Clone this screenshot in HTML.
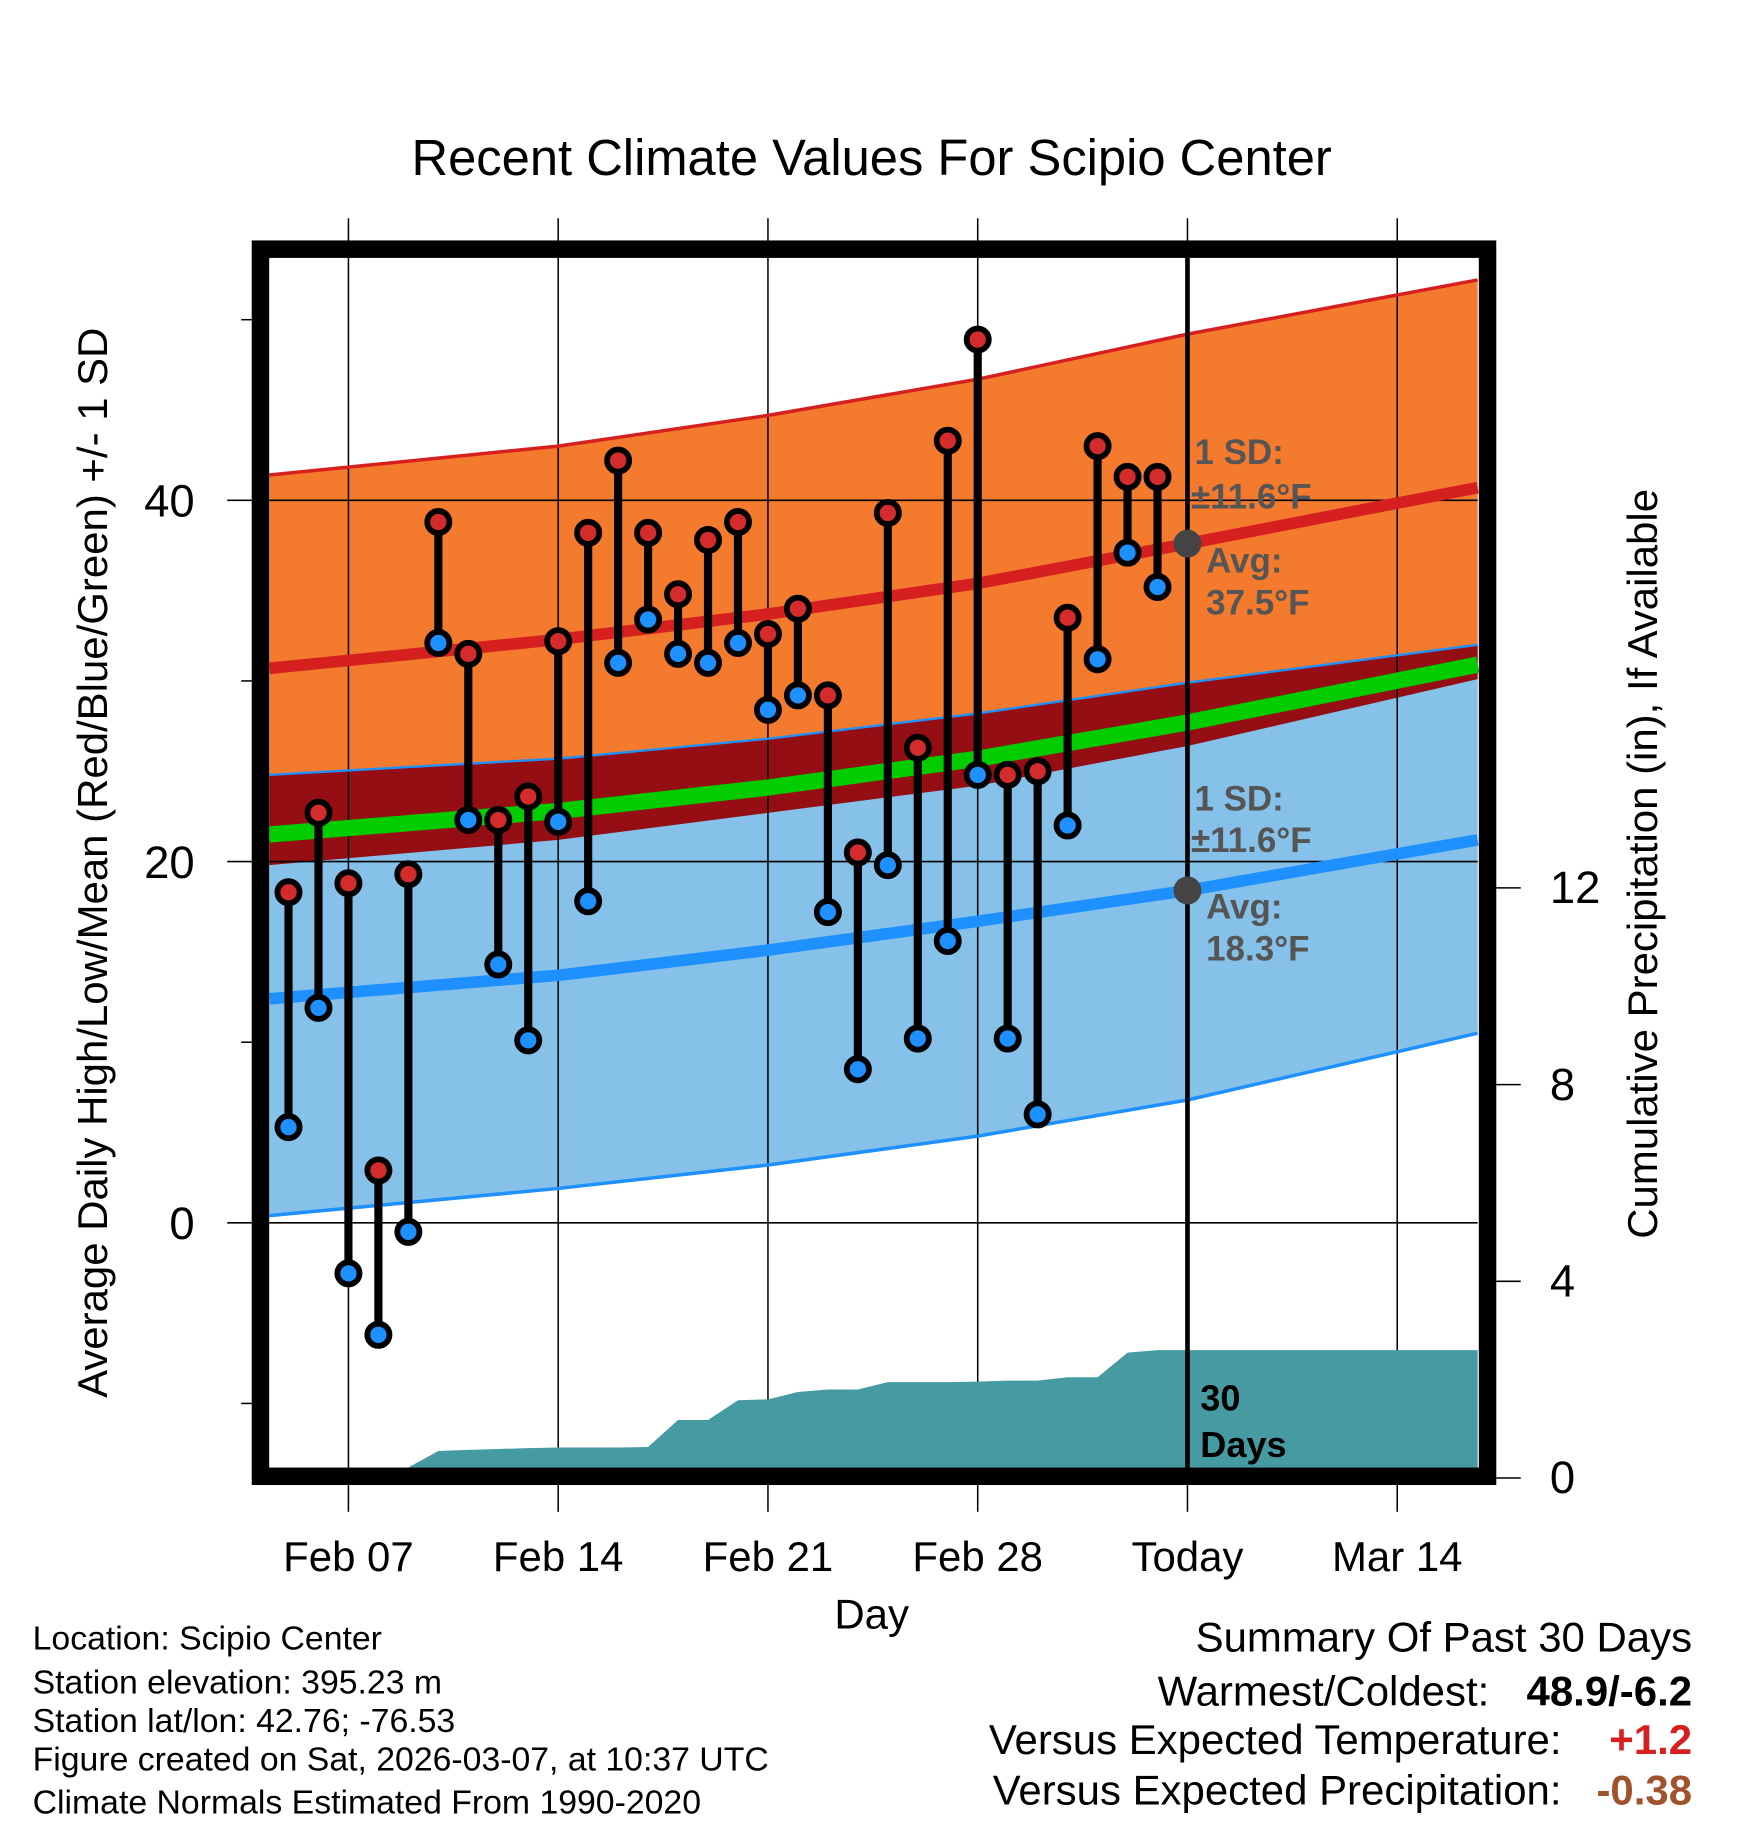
<!DOCTYPE html>
<html><head><meta charset="utf-8"><style>
html,body{margin:0;padding:0;background:#fff}
svg{display:block}
text{font-family:"Liberation Sans",Arial,sans-serif}
</style></head><body>
<svg id="chart" width="1748" height="1828" viewBox="0 0 1500 1568" xmlns="http://www.w3.org/2000/svg">
<g id="bands"></g>
<g id="grid"></g>
<g id="precip"></g>
<g id="lines"></g>
<g id="obs"></g>
<g id="ann">
<g fill="#555" font-weight="bold" font-size="30">
<text x="1025" y="398">1 SD:</text>
<text x="1022" y="436">±11.6°F</text>
<text x="1035" y="491">Avg:</text>
<text x="1035" y="527">37.5°F</text>
<text x="1025" y="695">1 SD:</text>
<text x="1022" y="731">±11.6°F</text>
<text x="1035" y="788">Avg:</text>
<text x="1035" y="824">18.3°F</text>
</g>
<text x="1030" y="1210" font-size="31" font-weight="bold">30</text>
<text x="1030" y="1250" font-size="31" font-weight="bold">Days</text>
</g>
<rect x="223.5" y="213.5" width="1053" height="1053" fill="none" stroke="#000" stroke-width="15"/>
<g id="axes"></g>
<text x="748" y="150" text-anchor="middle" font-size="43.5">Recent Climate Values For Scipio Center</text>
<text transform="translate(92,740) rotate(-90)" text-anchor="middle" font-size="36">Average Daily High/Low/Mean (Red/Blue/Green) +/- 1 SD</text>
<text transform="translate(1422,741) rotate(-90)" text-anchor="middle" font-size="36">Cumulative Precipitation (in), If Available</text>
<text x="748" y="1397" text-anchor="middle" font-size="36">Day</text>
<g font-size="29">
<text x="28" y="1415">Location: Scipio Center</text>
<text x="28" y="1453">Station elevation: 395.23 m</text>
<text x="28" y="1486">Station lat/lon: 42.76; -76.53</text>
<text x="28" y="1519">Figure created on Sat, 2026-03-07, at 10:37 UTC</text>
<text x="28" y="1556">Climate Normals Estimated From 1990-2020</text>
</g>
<g font-size="36">
<text x="1452" y="1417" text-anchor="end">Summary Of Past 30 Days</text>
<text x="1278" y="1463" text-anchor="end">Warmest/Coldest:</text>
<text x="1452" y="1463" text-anchor="end" font-weight="bold">48.9/-6.2</text>
<text x="1340" y="1505" text-anchor="end">Versus Expected Temperature:</text>
<text x="1452" y="1505" text-anchor="end" font-weight="bold" fill="#d62020">+1.2</text>
<text x="1340" y="1548" text-anchor="end">Versus Expected Precipitation:</text>
<text x="1452" y="1548" text-anchor="end" font-weight="bold" fill="#a0522d">-0.38</text>
</g>
</svg>
<script>
// observation days (day-of-February; March days continue as 29..)
const days = [5,6,7,8,9,10,11,12,13,14,15,16,17,18,19,20,21,22,23,24,25,26,27,28,29,30,31,32,33,34];
const highs = [18.3,22.7,18.8,2.9,19.3,38.8,31.5,22.3,23.6,32.2,38.2,42.2,38.2,34.8,37.8,38.8,32.6,34.0,29.2,20.5,39.3,26.3,43.3,48.9,24.8,25.0,33.5,43.0,41.3,41.3];
const lows = [5.3,11.9,-2.8,-6.2,-0.5,32.1,22.3,14.3,10.1,22.2,17.8,31.0,33.4,31.5,31.0,32.1,28.4,29.2,17.2,8.5,19.8,10.2,15.6,24.8,10.2,6.0,22.0,31.2,37.1,35.2];
const precip = [0,0,0,0,0,0.55,0.57,0.59,0.61,0.62,0.62,0.62,0.63,1.18,1.18,1.58,1.6,1.75,1.8,1.8,1.95,1.95,1.95,1.96,1.98,1.98,2.05,2.05,2.55,2.6];
// normals
const normDays = [4.36,14,21,28,35,44.7];
const highMean = [30.7,32.3,33.7,35.4,37.6,40.7];
const highUpper = [41.4,43.0,44.7,46.7,49.2,52.2];
const highLower = [19.8,21.2,22.7,24.2,26.4,30.1];
const lowMean = [12.4,13.7,15.1,16.7,18.4,21.2];
const lowUpper = [24.8,25.7,26.8,28.2,29.9,32.0];
const lowLower = [0.4,1.9,3.2,4.8,6.8,10.5];
const dailyMean = [21.5,22.8,24.1,25.7,27.7,30.9];
const xTickDays = [7,14,21,28,35,42];
const xTickLabels = ["Feb 07","Feb 14","Feb 21","Feb 28","Today","Mar 14"];
const yTicks = [0,20,40];
const yMinor = [-10,10,30,50];
const y2Ticks = [0,4,8,12];
const todayDay = 35;

const NS='http://www.w3.org/2000/svg';
const X0=231,X1=1268,Y0=221,Y1=1259;
const x=d=>299+(d-7)*180/7;
const y=t=>1049-15.5*t;
const yp=p=>1268-42.2*p;
function mk(tag,attrs,parent){const e=document.createElementNS(NS,tag);for(const k in attrs)e.setAttribute(k,attrs[k]);parent.appendChild(e);return e;}
const g=id=>document.getElementById(id);
const pts=(arr)=>normDays.map((d,i)=>Math.min(X1,x(d)).toFixed(1)+','+y(arr[i]).toFixed(1));
function band(up,lo,fill,name){
  const p=pts(up).concat(pts(lo).reverse());
  const e=mk('polygon',{points:p.join(' '),fill:fill},g('bands'));
  
  
}
band(highUpper,highLower,'#f47a2e','high-sd-band');
band(lowUpper,lowLower,'#85c1e8','low-sd-band');
band(lowUpper,highLower,'#940e14','overlap-band');
// grid
xTickDays.forEach(d=>{
  const l=mk('line',{x1:x(d),x2:x(d),y1:187,y2:Y1,stroke:'#000','stroke-width':1.3},g('grid'));
  
  
});
yTicks.forEach(t=>{
  const l=mk('line',{x1:X0,x2:X1,y1:y(t),y2:y(t),stroke:'#000','stroke-width':1.3},g('grid'));
  
  
});
// precip
{
  let p=[x(days[0])+','+Y1];
  days.forEach((d,i)=>p.push(x(d).toFixed(1)+','+Math.min(Y1,yp(precip[i])).toFixed(1)));
  p.push(X1+','+yp(precip[precip.length-1]).toFixed(1));
  p.push(X1+','+Y1);
  const e=mk('polygon',{points:p.join(' '),fill:'#469aa2'},g('precip'));
  
  
}
// lines
function line(arr,color,w,name){
  const e=mk('polyline',{points:pts(arr).join(' '),fill:'none',stroke:color,'stroke-width':w},g('lines'));
  
  
}
line(highUpper,'#d62020',3,'high-upper-line');
line(lowUpper,'#1e90ff',2,'low-upper-line');
line(lowLower,'#1e90ff',3,'low-lower-line');
line(dailyMean,'#00cc00',14,'daily-mean-line');
line(highMean,'#d62020',10,'high-mean-line');
line(lowMean,'#1e90ff',10,'low-mean-line');
{
  const t=mk('line',{x1:x(todayDay),x2:x(todayDay),y1:Y0,y2:Y1,stroke:'#000','stroke-width':4},g('lines'));
  
  
  const interp=(arr,d)=>{for(let i=0;i<normDays.length-1;i++){if(d>=normDays[i]&&d<=normDays[i+1]){const f=(d-normDays[i])/(normDays[i+1]-normDays[i]);return arr[i]+f*(arr[i+1]-arr[i]);}}return arr[arr.length-1];};
  [[highMean,'high-avg-dot'],[lowMean,'low-avg-dot']].forEach(([a,n])=>{
    const c=mk('circle',{cx:x(todayDay),cy:y(interp(a,todayDay)),r:12,fill:'#444'},g('lines'));
    
    
  });
}
// observations
days.forEach((d,i)=>{
  const l=mk('line',{x1:x(d),x2:x(d),y1:y(highs[i]),y2:y(lows[i]),stroke:'#000','stroke-width':7},g('obs'));
  
  
});
days.forEach((d,i)=>{
  const h=mk('circle',{cx:x(d),cy:y(highs[i]),r:9.5,fill:'#d42c2c',stroke:'#000','stroke-width':5},g('obs'));
  
  
  const lo=mk('circle',{cx:x(d),cy:y(lows[i]),r:9.5,fill:'#1e90ff',stroke:'#000','stroke-width':5},g('obs'));
  
  
});
// axes
xTickDays.forEach((d,i)=>{
  const l=mk('line',{x1:x(d),x2:x(d),y1:1274,y2:1297,stroke:'#000','stroke-width':1.3},g('axes'));
  
  
  const t=mk('text',{x:x(d),y:1348,'text-anchor':'middle','font-size':36},g('axes'));
  t.textContent=xTickLabels[i];
  
  
});
yTicks.forEach(v=>{
  const l=mk('line',{x1:195,x2:216,y1:y(v),y2:y(v),stroke:'#000','stroke-width':1.3},g('axes'));
  
  
  const t=mk('text',{x:167,y:y(v)+14,'text-anchor':'end','font-size':39},g('axes'));
  t.textContent=v;
  
  
});
yMinor.forEach(v=>{
  const l=mk('line',{x1:207,x2:216,y1:y(v),y2:y(v),stroke:'#000','stroke-width':1.3},g('axes'));
  
  
});
y2Ticks.forEach(v=>{
  const l=mk('line',{x1:1284,x2:1305,y1:yp(v),y2:yp(v),stroke:'#000','stroke-width':1.3},g('axes'));
  
  
  const t=mk('text',{x:1330,y:yp(v)+13,'font-size':39},g('axes'));
  t.textContent=v;
  
  
});
</script>
</body></html>
